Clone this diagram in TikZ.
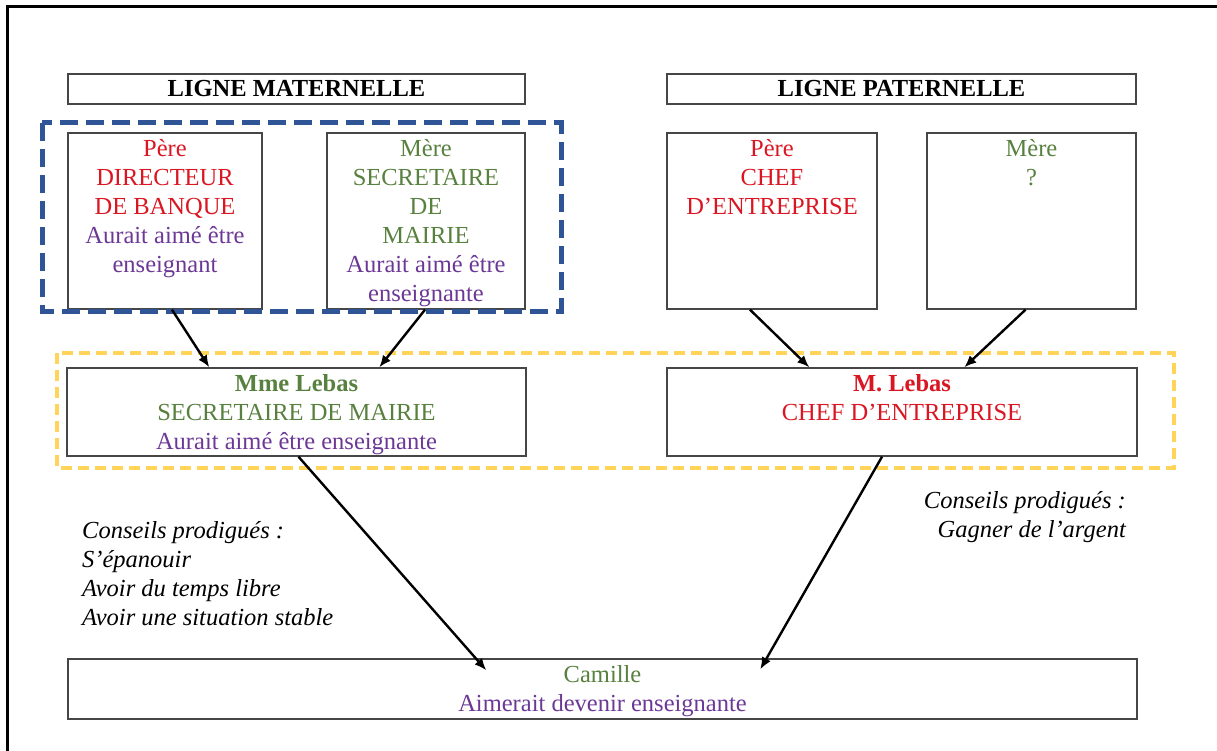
\documentclass[tikz,border=0pt]{standalone}
\usepackage{fontspec}
\setmainfont{Liberation Serif}
\usepackage{tikz}
\usetikzlibrary{arrows.meta,positioning}
\definecolor{famred}{RGB}{218,22,34}
\definecolor{famgreen}{RGB}{88,128,62}
\definecolor{fampurple}{RGB}{108,56,150}
\definecolor{matblue}{RGB}{47,85,151}
\definecolor{patyellow}{RGB}{255,212,88}
\definecolor{boxgray}{RGB}{70,70,70}
\newcommand{\reve}[1]{\textcolor{fampurple}{#1}}
\newcommand{\metierr}[1]{\textcolor{famred}{#1}}
\newcommand{\metierv}[1]{\textcolor{famgreen}{#1}}

\begin{document}
\begin{tikzpicture}[x=1pt, y=-1pt,
  every node/.style={font=\fontsize{24.5}{29}\selectfont},
  box/.style={draw=boxgray, line width=1.4pt, inner sep=0pt},
  txt/.style={align=center, inner sep=0pt},
  advice/.style={font=\fontsize{24.5}{29}\selectfont\itshape, inner sep=0pt},
  arr/.style={-{Latex[length=12pt,width=10pt]}, line width=2.4pt, black},
  matline/.style={draw=matblue, line width=5pt, dash pattern=on 18pt off 8pt},
  patline/.style={draw=patyellow, line width=4pt, dash pattern=on 11pt off 6pt}
]
\useasboundingbox (0,0) rectangle (1217,751);
\draw[line width=3pt] (7,751) -- (7,7) -- (1217,7);

% headings
\node[box, minimum width=457, minimum height=30] (lm) at (296.5,89)
  {\bfseries LIGNE MATERNELLE};
\node[box, minimum width=469, minimum height=30] (lp) at (901.5,89)
  {\bfseries LIGNE PATERNELLE};

% grandparents
\node[box, minimum width=194, minimum height=176] (pm) at (165,221) {};
\node[box, minimum width=198, minimum height=176] (mm) at (426,221) {};
\node[box, minimum width=210, minimum height=176] (pp) at (772,221) {};
\node[box, minimum width=209, minimum height=176] (mp) at (1031.5,221) {};
\node[txt, below=7pt of pm.north] (pm-t)
  {\metierr{Père}\\\metierr{DIRECTEUR}\\\metierr{DE BANQUE}\\\reve{Aurait aimé être}\\\reve{enseignant}};
\node[txt, below=7pt of mm.north] (mm-t)
  {\metierv{Mère}\\\metierv{SECRETAIRE}\\\metierv{DE}\\\metierv{MAIRIE}\\\reve{Aurait aimé être}\\\reve{enseignante}};
\node[txt, below=7pt of pp.north, text=famred] (pp-t)
  {Père\\CHEF\\D’ENTREPRISE};
\node[txt, below=7pt of mp.north, text=famgreen] (mp-t)
  {Mère\\?};

% parents
\node[box, minimum width=459, minimum height=88] (mme) at (296.5,412) {};
\node[box, minimum width=470, minimum height=88] (mlb) at (902,412) {};
\node[txt, below=7pt of mme.north] (mme-t)
  {\metierv{\bfseries Mme Lebas}\\\metierv{SECRETAIRE DE MAIRIE}\\\reve{Aurait aimé être enseignante}};
\node[txt, below=7pt of mlb.north, text=famred] (mlb-t)
  {\bfseries M. Lebas\\CHEF D’ENTREPRISE};

% child
\node[box, minimum width=1069, minimum height=60] (cam) at (602.5,689) {};
\node[txt, below=7pt of cam.north] (cam-t)
  {\metierv{Camille}\\\reve{Aimerait devenir enseignante}};

% family lines
\draw[matline] (42,123) rectangle (561,311);
\draw[patline] (57,353) rectangle (1174,468);

% advice
\node[advice, align=left, anchor=north west] (conseil-m) at (82,521)
  {Conseils prodigués :\\S’épanouir\\Avoir du temps libre\\Avoir une situation stable};
\node[advice, align=right, anchor=north east] (conseil-p) at (1126,491)
  {Conseils prodigués :\\Gagner de l’argent};

% arrows
\draw[arr] ([xshift=7pt]pm.south) -- ([xshift=143pt]mme.north west);
\draw[arr] ([xshift=-1pt]mm.south) -- ([xshift=313pt]mme.north west);
\draw[arr] ([xshift=-22pt]pp.south) -- ([xshift=143pt]mlb.north west);
\draw[arr] ([xshift=-6pt]mp.south) -- ([xshift=298pt]mlb.north west);
\draw[arr] ([xshift=2pt]mme.south) -- ([xshift=419pt,yshift=-12pt]cam.north west);
\draw[arr] ([xshift=-20pt]mlb.south) -- ([xshift=693pt,yshift=-11pt]cam.north west);
\end{tikzpicture}
\end{document}
